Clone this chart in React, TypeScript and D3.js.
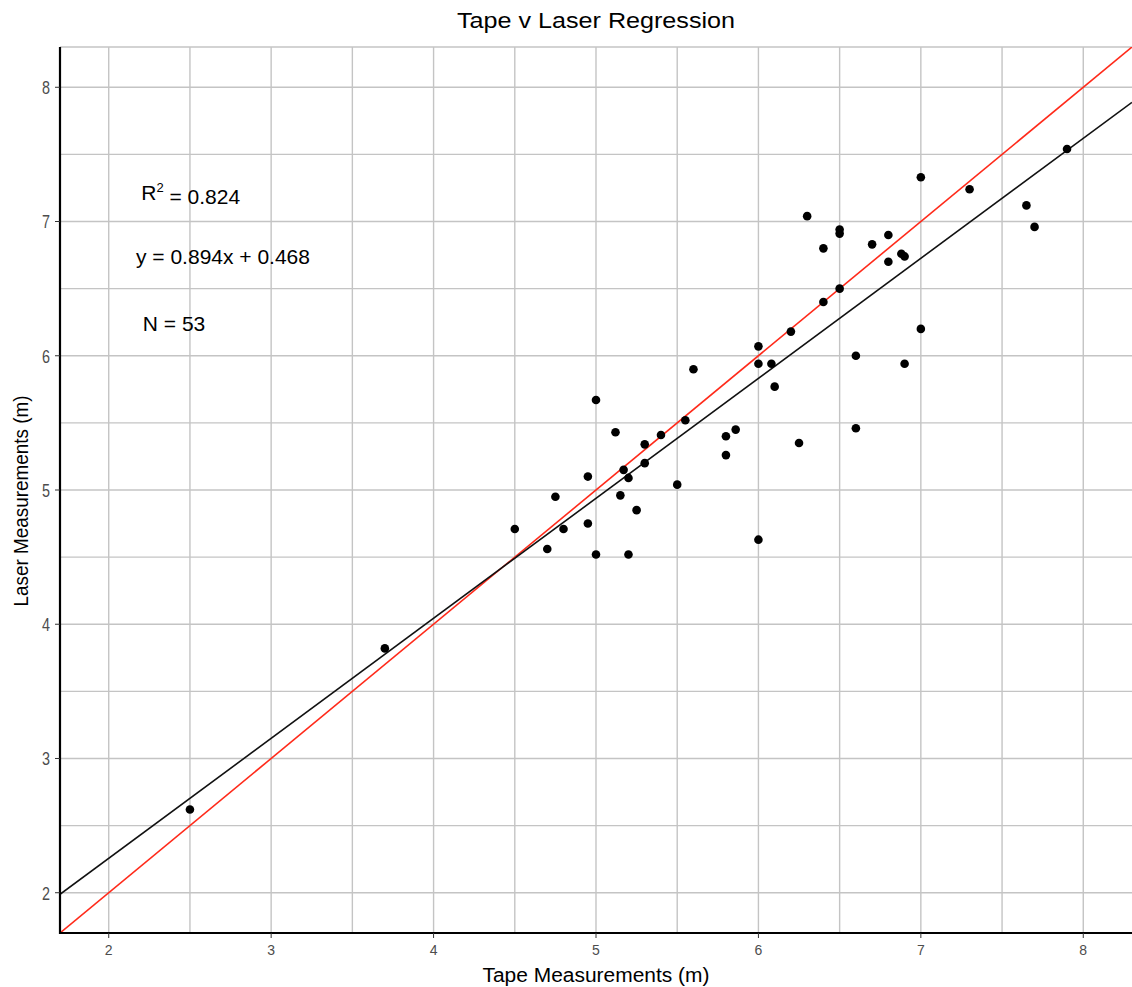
import React from "react";
import * as d3 from "d3";

// tape (x) vs laser (y) readings, in metres
const tape = [
  2.5, 3.7, 4.5, 4.7, 4.75, 4.8, 4.95, 4.95, 5.0, 5.0, 5.12, 5.15, 5.17, 5.2,
  5.2, 5.25, 5.3, 5.3, 5.4, 5.5, 5.55, 5.6, 5.8, 5.8, 5.86, 6.0, 6.0, 6.0,
  6.08, 6.1, 6.2, 6.25, 6.3, 6.4, 6.4, 6.5, 6.5, 6.5, 6.6, 6.6, 6.7, 6.8, 6.8,
  6.88, 6.9, 6.9, 7.0, 7.0, 7.3, 7.65, 7.7, 7.9,
];
const laser = [
  2.62, 3.82, 4.71, 4.56, 4.95, 4.71, 5.1, 4.75, 5.67, 4.52, 5.43, 4.96, 5.15,
  5.09, 4.52, 4.85, 5.34, 5.2, 5.41, 5.04, 5.52, 5.9, 5.4, 5.26, 5.45, 6.07,
  5.94, 4.63, 5.94, 5.77, 6.18, 5.35, 7.04, 6.8, 6.4, 6.94, 6.91, 6.5, 6.0,
  5.46, 6.83, 6.9, 6.7, 6.76, 6.74, 5.94, 7.33, 6.2, 7.24, 7.12, 6.96, 7.54,
];
const xTicks = [2, 3, 4, 5, 6, 7, 8];
const yTicks = [2, 3, 4, 5, 6, 7, 8];
const minorTicks = [2.5, 3.5, 4.5, 5.5, 6.5, 7.5];
const slope = 0.894;
const intercept = 0.468;
const annotations = [
  { x: 2.2, y: 7.22, text: "R2" },
  { x: 2.168, y: 6.74, text: "y = 0.894x + 0.468" },
  { x: 2.21, y: 6.24, text: "N = 53" },
];

const W = 1132;
const H = 987;
const margin = { top: 47, right: 0, bottom: 54, left: 60 };
const font = "Liberation Sans, Arial, sans-serif";

export default function App() {
  const x = d3.scaleLinear().domain([1.7, 8.3]).range([margin.left, W - margin.right]);
  const y = d3.scaleLinear().domain([1.7, 8.3]).range([H - margin.bottom, margin.top]);
  const pts = tape.map((t, i) => ({ t, l: laser[i] }));
  const line = d3.line<number>().x((d) => x(d)).y((d) => y(slope * d + intercept));
  const idLine = d3.line<number>().x((d) => x(d)).y((d) => y(d));
  const grid = "#c4c4c4";
  const x0 = margin.left, x1 = W - margin.right;
  const y0 = margin.top, y1 = H - margin.bottom;

  return (
    <svg
      width={W}
      height={H}
      style={{ position: "absolute", left: 0, top: 0, background: "#fff" }}
      fontFamily={font}
    >
      <defs>
        <clipPath id="plot">
          <rect x={x0} y={y0} width={x1 - x0} height={y1 - y0} />
        </clipPath>
      </defs>
      {/* grid */}
      {[...xTicks, ...minorTicks].map((v) => (
        <line key={"gx" + v} x1={x(v)} x2={x(v)} y1={y0} y2={y1} stroke={grid} strokeWidth={1.4} />
      ))}
      {[...yTicks, ...minorTicks].map((v) => (
        <line key={"gy" + v} x1={x0} x2={x1} y1={y(v)} y2={y(v)} stroke={grid} strokeWidth={1.4} />
      ))}
      <line x1={x0} x2={x1} y1={y0} y2={y0} stroke={grid} strokeWidth={1.4} />

      <g clipPath="url(#plot)">
        <path d={idLine([1.7, 8.3]) || ""} stroke="#ff2a1a" strokeWidth={1.6} fill="none" />
        <path d={line([1.7, 8.3]) || ""} stroke="#111" strokeWidth={1.6} fill="none" />
        {pts.map((p, i) => (
          <circle key={i} cx={x(p.t)} cy={y(p.l)} r={4.3} fill="#000" />
        ))}
      </g>

      {/* axes */}
      <line x1={x0} x2={x0} y1={y0} y2={y1 + 1} stroke="#000" strokeWidth={2.2} />
      <line x1={x0 - 1} x2={x1} y1={y1} y2={y1} stroke="#000" strokeWidth={2.2} />
      {xTicks.map((v) => (
        <g key={"xt" + v}>
          <line x1={x(v)} x2={x(v)} y1={y1} y2={y1 + 5} stroke="#333" strokeWidth={1} />
          <text x={x(v)} y={y1 + 22} textAnchor="middle" fontSize={14} fill="#4d4d4d">
            {v}
          </text>
        </g>
      ))}
      {yTicks.map((v) => (
        <g key={"yt" + v}>
          <line x1={x0 - 5} x2={x0} y1={y(v)} y2={y(v)} stroke="#333" strokeWidth={1} />
          <text
            x={x0 - 10}
            y={y(v)}
            dy="0.36em"
            textAnchor="end"
            fontSize={19}
            textLength={8}
            lengthAdjust="spacingAndGlyphs"
            fill="#4d4d4d"
          >
            {v}
          </text>
        </g>
      ))}

      {/* annotations */}
      {annotations.map((a) =>
        a.text === "R2" ? (
          <text key={a.text} x={x(a.x)} y={y(a.y)} dy="0.36em" fontSize={21} fill="#000">
            R<tspan dy="-0.55em" fontSize={13}>2</tspan>
            <tspan dy="0.55em"> = 0.824</tspan>
          </text>
        ) : (
          <text key={a.text} x={x(a.x)} y={y(a.y)} dy="0.36em" fontSize={21} fill="#000">
            {a.text}
          </text>
        )
      )}

      {/* titles */}
      <text
        x={(x0 + x1) / 2}
        y={28}
        textAnchor="middle"
        fontSize={22}
        textLength={278}
        lengthAdjust="spacingAndGlyphs"
        fill="#000"
      >
        Tape v Laser Regression
      </text>
      <text
        x={(x0 + x1) / 2}
        y={982}
        textAnchor="middle"
        fontSize={20}
        textLength={227}
        lengthAdjust="spacingAndGlyphs"
        fill="#000"
      >
        Tape Measurements (m)
      </text>
      <text
        transform={`translate(28, 501) rotate(-90)`}
        textAnchor="middle"
        fontSize={20}
        textLength={211}
        lengthAdjust="spacingAndGlyphs"
        fill="#000"
      >
        Laser Measurements (m)
      </text>
    </svg>
  );
}
